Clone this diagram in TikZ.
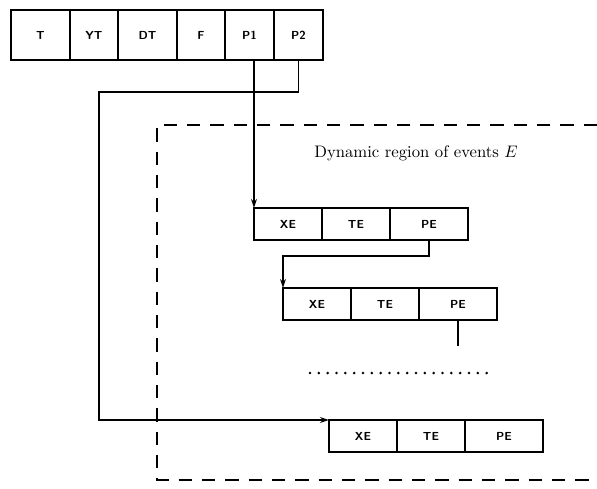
\documentclass[tikz,border=0pt]{standalone}
\usepackage{tikz}
\usetikzlibrary{
    positioning,
    arrows.meta
}
\tikzset{
    cell/.style={
        draw,
        line width=0.8pt,
        outer sep=0pt,
        inner sep=0pt,
        minimum height=30pt,
        font=\sffamily\bfseries\fontsize{7}{8}\selectfont
    },
    evcell/.style={
        cell,
        minimum height=19.2pt
    },
    link/.style={
        line width=0.8pt,
        -{Stealth[length=5.5pt,width=3.6pt]}
    }
}

\begin{document}
\begin{tikzpicture}[x=0.6pt, y=-0.6pt, node distance=0pt]
    \useasboundingbox (0,0) rectangle (597,489);

    % record of the table
    \node[cell, minimum width=35.4pt, anchor=north west] (t) at (11,10) {T};
    \node[cell, minimum width=28.8pt, right=of t] (yt) {YT};
    \node[cell, minimum width=35.4pt, right=of yt] (dt) {DT};
    \node[cell, minimum width=28.8pt, right=of dt] (f) {F};
    \node[cell, minimum width=29.4pt, right=of f] (p1) {P1};
    \node[cell, minimum width=29.4pt, right=of p1] (p2) {P2};

    % region of events
    \draw[line width=0.8pt, dash pattern=on 8pt off 6pt]
        (597,125) -- (157,125) -- (157,480) -- (597,480);
    \node[font=\fontsize{10}{12}\selectfont] (title) at (416,153)
        {Dynamic region of events $E$};

    % first event
    \node[evcell, minimum width=40.8pt, anchor=north west] (xe1) at (254,208) {XE};
    \node[evcell, minimum width=40.8pt, right=of xe1] (te1) {TE};
    \node[evcell, minimum width=46.8pt, right=of te1] (pe1) {PE};

    % second event
    \node[evcell, minimum width=40.8pt, anchor=north west] (xe2) at (283,288) {XE};
    \node[evcell, minimum width=40.8pt, right=of xe2] (te2) {TE};
    \node[evcell, minimum width=46.8pt, right=of te2] (pe2) {PE};

    % last event
    \node[evcell, minimum width=40.8pt, anchor=north west] (xe3) at (329,420) {XE};
    \node[evcell, minimum width=40.8pt, right=of xe3] (te3) {TE};
    \node[evcell, minimum width=46.8pt, right=of te3] (pe3) {PE};

    % pointers
    \coordinate (bend) at (99,92);
    \draw[link] (xe1.north west |- p1.south) -- (xe1.north west);
    \draw[link] (p2.south) |- (bend) |- (xe3.north west);
    \draw[link] (pe1.south) -- ++(0,16) -| (xe2.north west);
    \draw[line width=0.8pt] (pe2.south) -- ++(0,26);

    % more events
    \draw[line width=1.7pt, dash pattern=on 0pt off 5.3pt, line cap=round]
        (310,373) -- (488,373);
\end{tikzpicture}
\end{document}
